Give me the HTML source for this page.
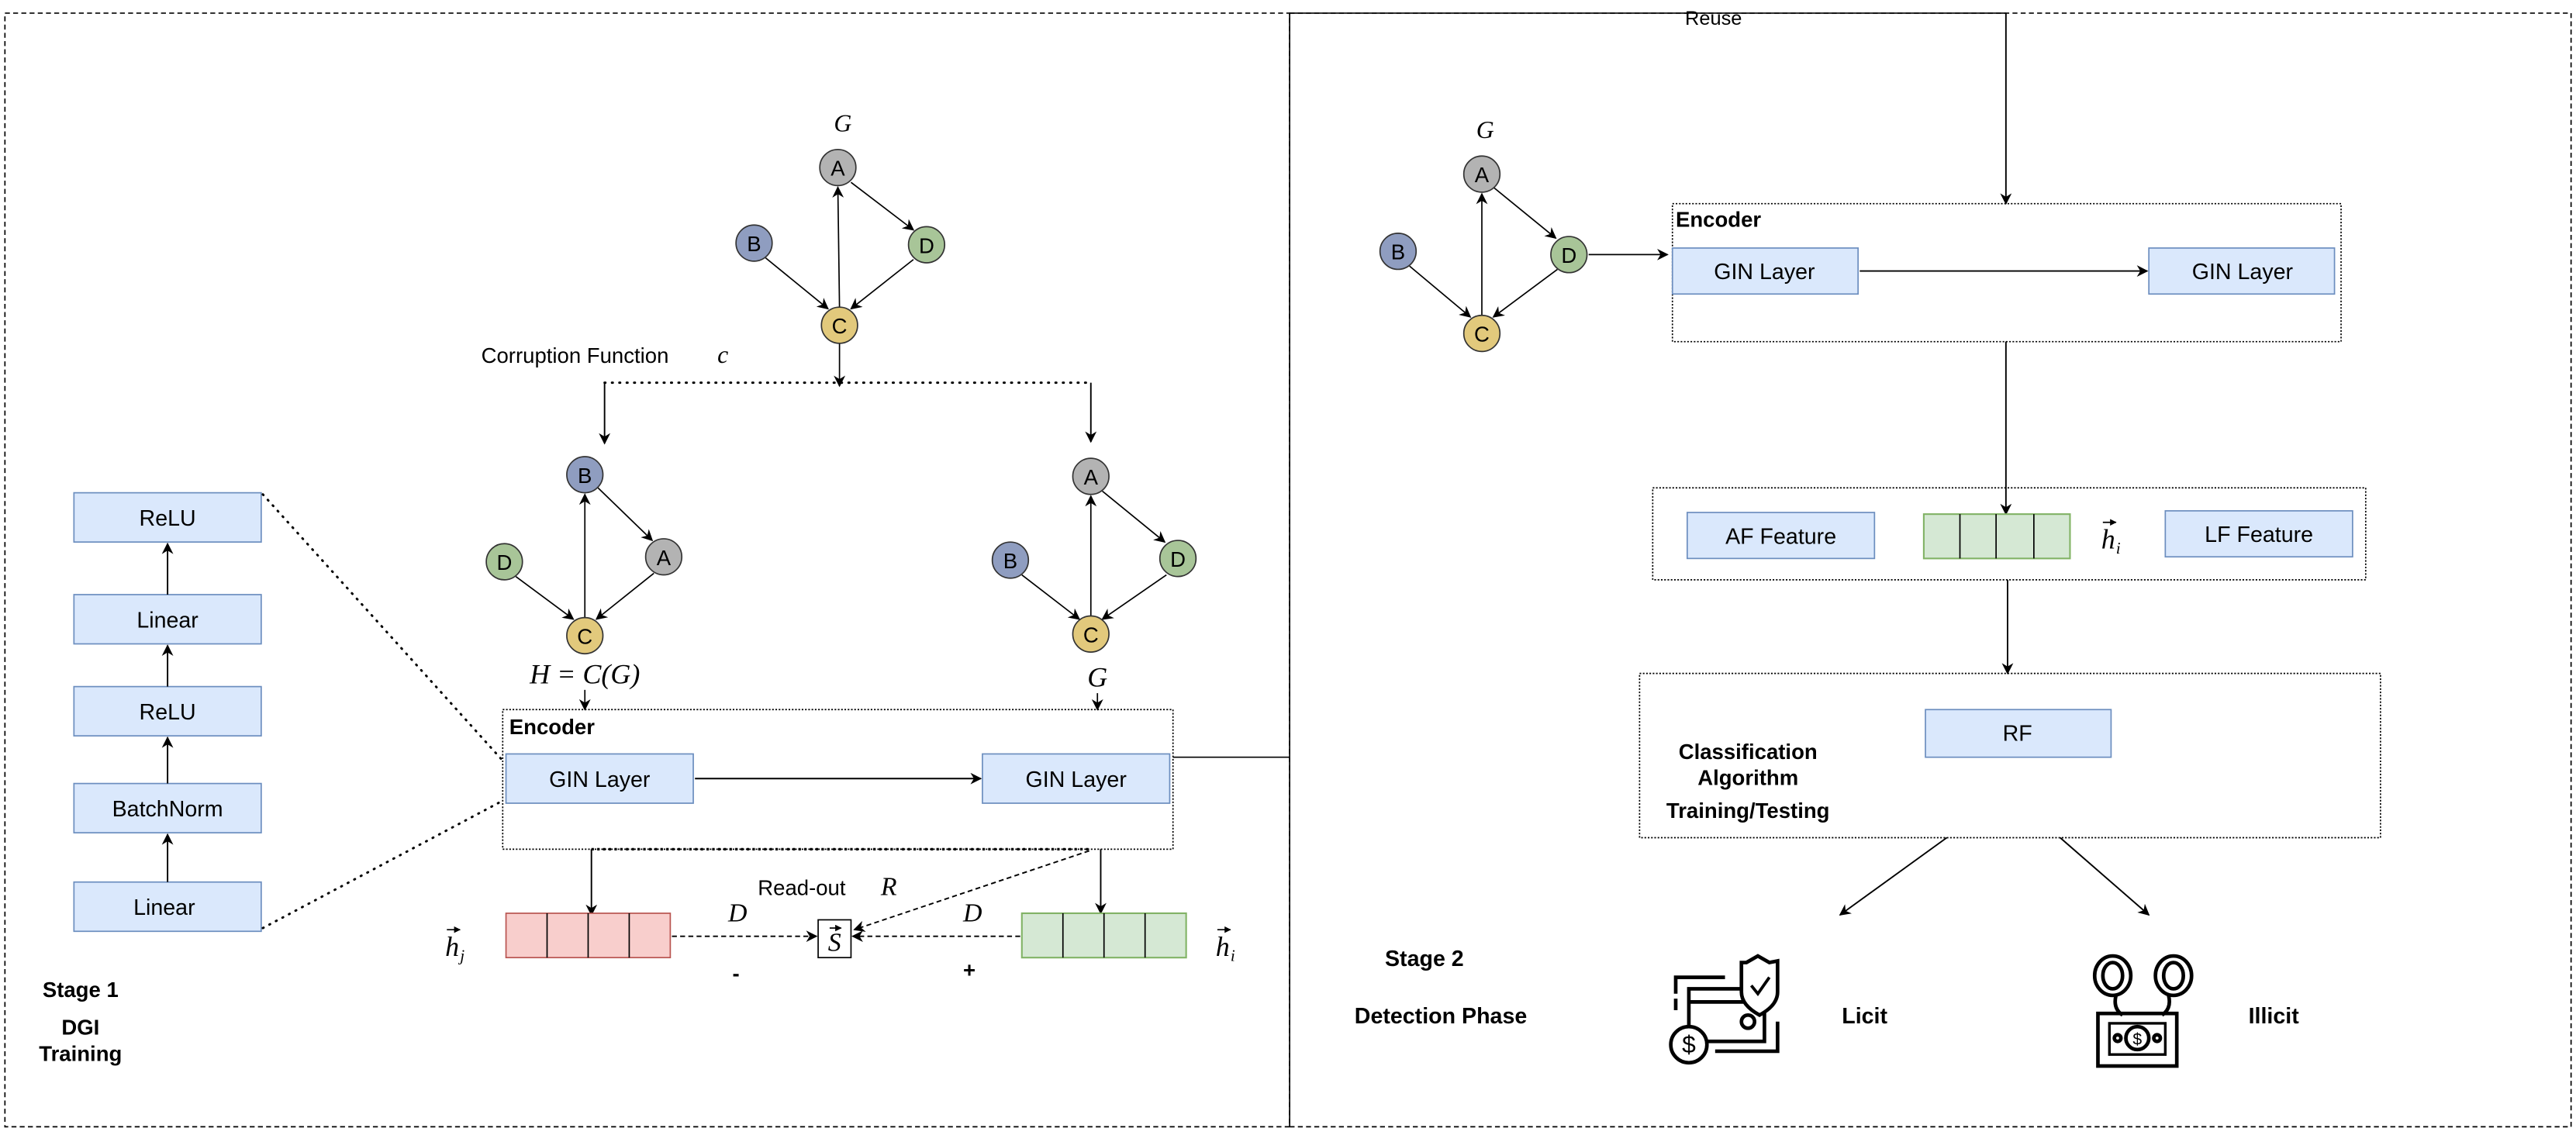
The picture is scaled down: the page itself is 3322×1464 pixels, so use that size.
<!DOCTYPE html>
<html><head><meta charset="utf-8"><style>
html,body{margin:0;padding:0;background:#fff}
svg{display:block}
text{font-family:"Liberation Sans",sans-serif}
.m{font-family:"Liberation Serif",serif;font-style:italic}
.b{font-weight:bold}
</style></head><body>
<svg width="3322" height="1464" viewBox="0 0 1568 691" preserveAspectRatio="none" xmlns="http://www.w3.org/2000/svg">
<defs>
<marker id="ar" viewBox="0 0 10 10" refX="9" refY="5" markerWidth="7" markerHeight="7" orient="auto" markerUnits="userSpaceOnUse"><path d="M0,0 L10,5 L0,10 L3,5 z" fill="#000"/></marker>
<marker id="sa" viewBox="0 0 10 10" refX="9" refY="5" markerWidth="4" markerHeight="4" orient="auto" markerUnits="userSpaceOnUse"><path d="M0,0 L10,5 L0,10 z" fill="#000"/></marker>
</defs>
<g fill="none" stroke="#000" stroke-width="0.8">
<rect x="3" y="8" width="782" height="678" stroke-dasharray="3,2"/>
<path d="M785,8 H1565 V686 H785" stroke-dasharray="3,2"/>
<path d="M785,686 V8 H1221"/>
</g>
<text x="1043" y="15" font-size="12" text-anchor="middle">Reuse</text>

<!-- left stack -->
<g fill="#dae8fc" stroke="#6c8ebf" stroke-width="0.8">
<rect x="45" y="300" width="114" height="30"/>
<rect x="45" y="362" width="114" height="30"/>
<rect x="45" y="418" width="114" height="30"/>
<rect x="45" y="477" width="114" height="30"/>
<rect x="45" y="537" width="114" height="30"/>
</g>
<g font-size="13.5" text-anchor="middle">
<text x="102" y="320">ReLU</text><text x="102" y="382">Linear</text><text x="102" y="438">ReLU</text><text x="102" y="497">BatchNorm</text><text x="100" y="557">Linear</text>
</g>
<g stroke="#000" stroke-width="0.9" marker-end="url(#ar)">
<line x1="102" y1="362" x2="102" y2="331"/><line x1="102" y1="418" x2="102" y2="393"/><line x1="102" y1="477" x2="102" y2="449"/><line x1="102" y1="537" x2="102" y2="508"/>
</g>
<g stroke="#000" stroke-width="1.4" stroke-dasharray="0.5,4" stroke-linecap="round">
<line x1="160" y1="301" x2="305" y2="462"/><line x1="160" y1="565" x2="305" y2="488"/>
</g>
<g class="b" font-size="13" text-anchor="middle"><text x="49" y="607">Stage 1</text><text x="49" y="630">DGI</text><text x="49" y="646">Training</text></g>

<!-- top graph -->
<text class="m" x="513" y="80" font-size="15" text-anchor="middle">G</text>
<g stroke="#000" stroke-width="0.8" marker-end="url(#ar)">
<line x1="511" y1="187" x2="510" y2="114"/><line x1="518" y1="111" x2="556" y2="140"/><line x1="466" y1="157" x2="504" y2="188"/><line x1="556" y1="158" x2="518" y2="188"/><line x1="511" y1="209" x2="511" y2="235"/>
</g>
<g stroke="#333" stroke-width="0.8">
<circle cx="510" cy="102" r="11" fill="#b3b3b3"/><circle cx="459" cy="148" r="11" fill="#8f9dc0"/><circle cx="564" cy="149" r="11" fill="#a8c598"/><circle cx="511" cy="198" r="11" fill="#e2c97c"/>
</g>
<g font-size="13" text-anchor="middle"><text x="510" y="107">A</text><text x="459" y="153">B</text><text x="564" y="154">D</text><text x="511" y="203">C</text></g>
<text x="350" y="221" font-size="13" text-anchor="middle">Corruption Function</text>
<text class="m" x="440" y="221" font-size="15" text-anchor="middle">c</text>
<line x1="368" y1="233" x2="664" y2="233" stroke="#000" stroke-width="1.4" stroke-dasharray="0.5,4" stroke-linecap="round"/>
<g stroke="#000" stroke-width="0.9" marker-end="url(#ar)"><line x1="368" y1="233" x2="368" y2="270"/><line x1="664" y1="233" x2="664" y2="269"/></g>

<!-- left graph -->
<g stroke="#000" stroke-width="0.8" marker-end="url(#ar)">
<line x1="356" y1="376" x2="356" y2="301"/><line x1="364" y1="297" x2="397" y2="329"/><line x1="314" y1="351" x2="349" y2="377"/><line x1="398" y1="349" x2="363" y2="377"/><line x1="356" y1="420" x2="356" y2="432"/>
</g>
<g stroke="#333" stroke-width="0.8">
<circle cx="356" cy="289" r="11" fill="#8f9dc0"/><circle cx="307" cy="342" r="11" fill="#a8c598"/><circle cx="404" cy="339" r="11" fill="#b3b3b3"/><circle cx="356" cy="387" r="11" fill="#e2c97c"/>
</g>
<g font-size="13" text-anchor="middle"><text x="356" y="294">B</text><text x="307" y="347">D</text><text x="404" y="344">A</text><text x="356" y="392">C</text></g>
<text class="m" x="356" y="416" font-size="17" text-anchor="middle">H = C(G)</text>

<!-- right graph -->
<g stroke="#000" stroke-width="0.8" marker-end="url(#ar)">
<line x1="664" y1="375" x2="664" y2="302"/><line x1="671" y1="299" x2="709" y2="330"/><line x1="622" y1="350" x2="657" y2="377"/><line x1="710" y1="350" x2="671" y2="377"/><line x1="668" y1="422" x2="668" y2="432"/>
</g>
<g stroke="#333" stroke-width="0.8">
<circle cx="664" cy="290" r="11" fill="#b3b3b3"/><circle cx="615" cy="341" r="11" fill="#8f9dc0"/><circle cx="717" cy="340" r="11" fill="#a8c598"/><circle cx="664" cy="386" r="11" fill="#e2c97c"/>
</g>
<g font-size="13" text-anchor="middle"><text x="664" y="295">A</text><text x="615" y="346">B</text><text x="717" y="345">D</text><text x="664" y="391">C</text></g>
<text class="m" x="668" y="418" font-size="17" text-anchor="middle">G</text>

<!-- left encoder -->
<rect x="306" y="432" width="408" height="85" fill="none" stroke="#000" stroke-width="0.8" stroke-dasharray="1,1"/>
<line x1="360" y1="517" x2="664" y2="517" stroke="#000" stroke-width="1.5" stroke-dasharray="1.5,2"/>
<text class="b" x="310" y="447" font-size="13">Encoder</text>
<g fill="#dae8fc" stroke="#6c8ebf" stroke-width="0.8"><rect x="308" y="459" width="114" height="30"/><rect x="598" y="459" width="114" height="30"/></g>
<g font-size="13.5" text-anchor="middle"><text x="365" y="479">GIN Layer</text><text x="655" y="479">GIN Layer</text></g>
<line x1="423" y1="474" x2="597" y2="474" stroke="#000" stroke-width="1" marker-end="url(#ar)"/>
<line x1="714" y1="461" x2="785" y2="461" stroke="#000" stroke-width="0.8"/>
<g stroke="#000" stroke-width="0.9" marker-end="url(#ar)"><line x1="360" y1="517" x2="360" y2="557"/><line x1="670" y1="517" x2="670" y2="556"/></g>
<g stroke="#b85450" stroke-width="0.8" fill="#f8cecc"><rect x="308" y="556" width="100" height="27"/></g>
<g stroke="#000" stroke-width="0.8"><line x1="333" y1="556" x2="333" y2="583"/><line x1="358" y1="556" x2="358" y2="583"/><line x1="383" y1="556" x2="383" y2="583"/></g>
<g stroke="#82b366" stroke-width="1" fill="#d5e8d4"><rect x="622" y="556" width="100" height="27"/></g>
<g stroke="#000" stroke-width="0.8"><line x1="647" y1="556" x2="647" y2="583"/><line x1="672" y1="556" x2="672" y2="583"/><line x1="697" y1="556" x2="697" y2="583"/></g>
<!-- vector labels -->
<text class="m" x="271" y="582" font-size="17">h</text><text class="m" x="280" y="585" font-size="10">j</text>
<line x1="272" y1="566" x2="280" y2="566" stroke="#000" stroke-width="0.8" marker-end="url(#sa)"/>
<text class="m" x="740" y="582" font-size="17">h</text><text class="m" x="749" y="585" font-size="10">i</text>
<line x1="741" y1="566" x2="749" y2="566" stroke="#000" stroke-width="0.8" marker-end="url(#sa)"/>
<rect x="498" y="560" width="20" height="23" fill="#fff" stroke="#000" stroke-width="0.8"/>
<text class="m" x="508" y="579" font-size="16" text-anchor="middle">S</text>
<line x1="505" y1="565" x2="512" y2="565" stroke="#000" stroke-width="0.8" marker-end="url(#sa)"/>
<g stroke="#000" stroke-width="0.9" stroke-dasharray="3,2" marker-end="url(#ar)">
<line x1="409" y1="570" x2="497" y2="570"/><line x1="621" y1="570" x2="519" y2="570"/><line x1="663" y1="518" x2="520" y2="566"/>
</g>
<text x="488" y="545" font-size="13" text-anchor="middle">Read-out</text>
<text class="m" x="541" y="545" font-size="16" text-anchor="middle">R</text>
<text class="m" x="449" y="561" font-size="16" text-anchor="middle">D</text>
<text class="m" x="592" y="561" font-size="16" text-anchor="middle">D</text>
<text class="b" x="448" y="597" font-size="13" text-anchor="middle">-</text>
<text class="b" x="590" y="595" font-size="13" text-anchor="middle">+</text>

<!-- right side graph -->
<text class="m" x="904" y="84" font-size="15" text-anchor="middle">G</text>
<g stroke="#000" stroke-width="0.8" marker-end="url(#ar)">
<line x1="902" y1="192" x2="902" y2="118"/><line x1="909" y1="114" x2="947" y2="145"/><line x1="858" y1="162" x2="895" y2="193"/><line x1="948" y1="164" x2="909" y2="193"/><line x1="967" y1="155" x2="1015" y2="155"/>
</g>
<g stroke="#333" stroke-width="0.8">
<circle cx="902" cy="106" r="11" fill="#b3b3b3"/><circle cx="851" cy="153" r="11" fill="#8f9dc0"/><circle cx="955" cy="155" r="11" fill="#a8c598"/><circle cx="902" cy="203" r="11" fill="#e2c97c"/>
</g>
<g font-size="13" text-anchor="middle"><text x="902" y="111">A</text><text x="851" y="158">B</text><text x="955" y="160">D</text><text x="902" y="208">C</text></g>

<rect x="1018" y="124" width="407" height="84" fill="none" stroke="#000" stroke-width="0.8" stroke-dasharray="1,1"/>
<text class="b" x="1020" y="138" font-size="13">Encoder</text>
<g fill="#dae8fc" stroke="#6c8ebf" stroke-width="0.8"><rect x="1018" y="151" width="113" height="28"/><rect x="1308" y="151" width="113" height="28"/></g>
<g font-size="13.5" text-anchor="middle"><text x="1074" y="170">GIN Layer</text><text x="1365" y="170">GIN Layer</text></g>
<g stroke="#000" stroke-width="0.9" marker-end="url(#ar)">
<line x1="1132" y1="165" x2="1307" y2="165"/>
<line x1="1221" y1="8" x2="1221" y2="124"/>
<line x1="1221" y1="208" x2="1221" y2="313"/>
<line x1="1222" y1="353" x2="1222" y2="410"/>
<line x1="1185" y1="510" x2="1120" y2="557"/>
<line x1="1254" y1="510" x2="1308" y2="557"/>
</g>
<rect x="1006" y="297" width="434" height="56" fill="none" stroke="#000" stroke-width="0.8" stroke-dasharray="1,1"/>
<g fill="#dae8fc" stroke="#6c8ebf" stroke-width="0.8"><rect x="1027" y="312" width="114" height="28"/><rect x="1318" y="311" width="114" height="28"/><rect x="1172" y="432" width="113" height="29"/></g>
<g font-size="13.5" text-anchor="middle"><text x="1084" y="331">AF Feature</text><text x="1375" y="330">LF Feature</text><text x="1228" y="451">RF</text></g>
<g stroke="#82b366" stroke-width="1" fill="#d5e8d4"><rect x="1171" y="313" width="89" height="27"/></g>
<g stroke="#000" stroke-width="0.8"><line x1="1193" y1="313" x2="1193" y2="340"/><line x1="1215" y1="313" x2="1215" y2="340"/><line x1="1238" y1="313" x2="1238" y2="340"/></g>
<text class="m" x="1279" y="334" font-size="17">h</text><text class="m" x="1288" y="337" font-size="10">i</text>
<line x1="1280" y1="318" x2="1288" y2="318" stroke="#000" stroke-width="0.8" marker-end="url(#sa)"/>
<rect x="998" y="410" width="451" height="100" fill="none" stroke="#000" stroke-width="0.8" stroke-dasharray="1,1"/>
<g class="b" font-size="13" text-anchor="middle"><text x="1064" y="462">Classification</text><text x="1064" y="478">Algorithm</text><text x="1064" y="498">Training/Testing</text></g>
<g class="b" font-size="13.5" text-anchor="middle"><text x="867" y="588">Stage 2</text><text x="877" y="623">Detection Phase</text><text x="1135" y="623">Licit</text><text x="1384" y="623">Illicit</text></g>

<!-- licit icon -->
<g fill="none" stroke="#000" stroke-width="2.2">
<path d="M1020,605 V595 H1050 M1020,608 V615"/>
<rect x="1028" y="602" width="46" height="32"/>
<line x1="1028" y1="610" x2="1062" y2="610"/>
<path d="M1063,586 L1070,582 L1077,586 L1082,585 V604 Q1082,612 1071,618 Q1060,612 1060,604 V586 z" fill="#fff"/>
<path d="M1066,600 L1070,605 L1077,595" stroke-width="1.8"/>
<circle cx="1028" cy="636" r="11" fill="#fff"/>
<text x="1028" y="641" font-size="15" stroke="none" fill="#000" text-anchor="middle">$</text>
<circle cx="1064" cy="622" r="4"/>
<path d="M1082,622 V640 H1044"/>
</g>
<!-- illicit icon -->
<g fill="none" stroke="#000" stroke-width="2.2">
<ellipse cx="1286" cy="594" rx="11" ry="12"/><ellipse cx="1286" cy="594" rx="6" ry="8"/>
<ellipse cx="1323" cy="594" rx="11" ry="12"/><ellipse cx="1323" cy="594" rx="6" ry="8"/>
<path d="M1288,606 Q1286,614 1292,618 M1320,606 Q1322,614 1316,618"/>
<rect x="1277" y="617" width="48" height="32"/>
<path d="M1284,623 H1318 V642 H1284 z" stroke-width="1.6"/>
<circle cx="1301" cy="632" r="7"/>
<circle cx="1289" cy="632" r="2"/><circle cx="1313" cy="632" r="2"/>
<text x="1301" y="636" font-size="10" stroke="none" fill="#000" text-anchor="middle">$</text>
</g>
</svg>
</body></html>
